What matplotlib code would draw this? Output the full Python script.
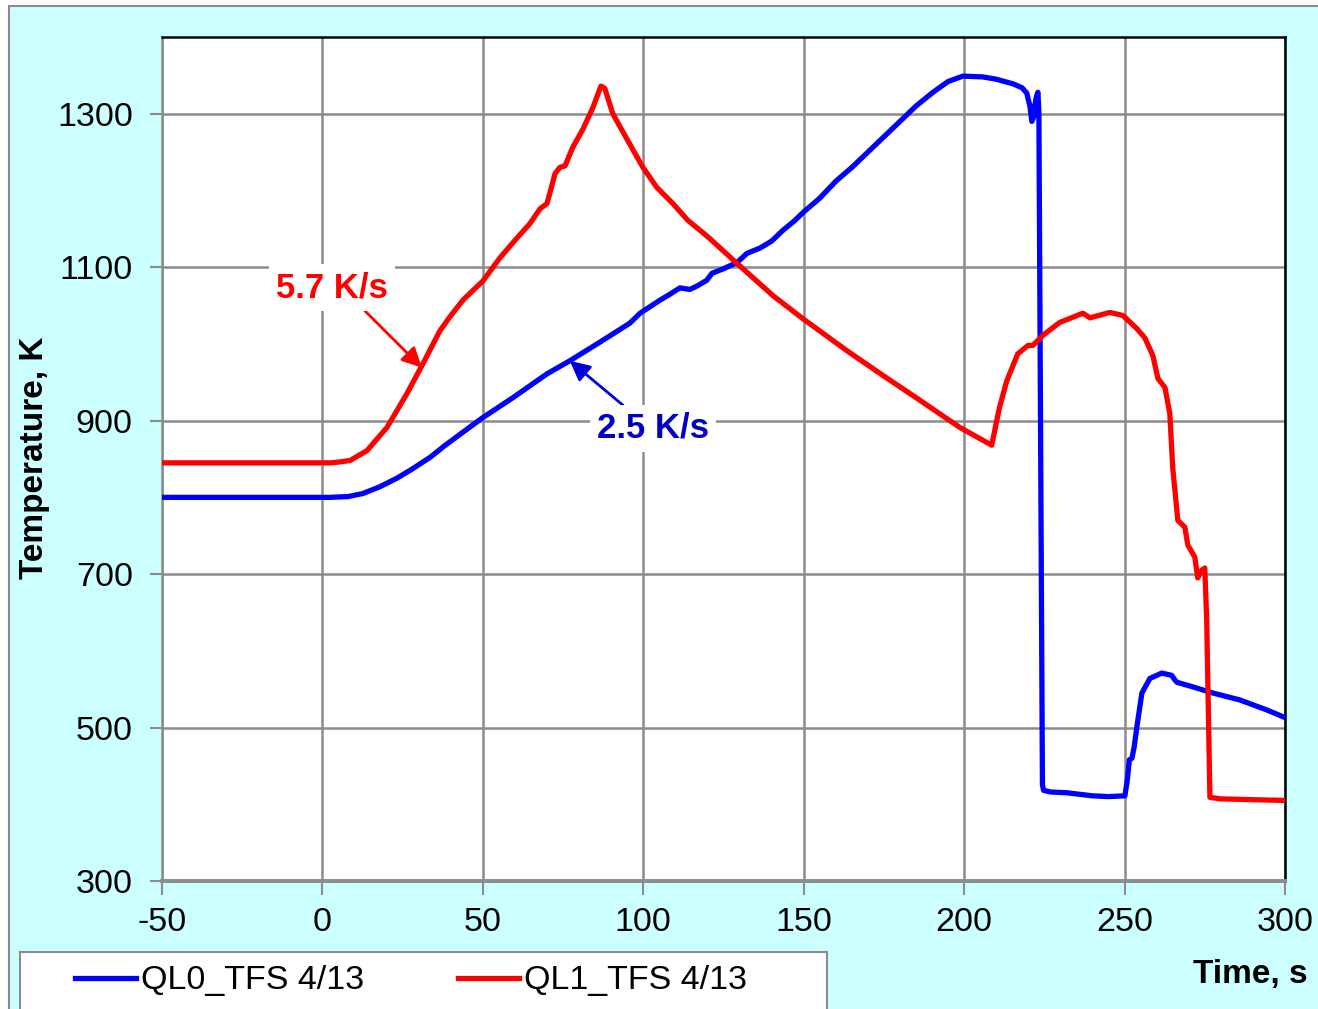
import matplotlib
matplotlib.use("Agg")
import matplotlib.pyplot as plt
from matplotlib.patches import Rectangle

plt.rcParams['font.family'] = ['Liberation Sans', 'DejaVu Sans']

# ---------------- data ----------------
t_ql0 = [-50, 2.4, 8, 12.6, 18, 23.2, 28, 33.5, 38, 43.8, 50, 59.4, 70, 77.1, 85.6,
         95.8, 99, 105.2, 108, 111.4, 113, 114.5, 117, 119.8, 121.4, 125, 129.2,
         132.3, 136.4, 140, 143.5, 147, 150, 155, 160, 165, 170, 175, 180, 185,
         190.3, 195, 199.6, 205.8, 210, 215.2, 218, 219.5, 220.5, 221.1, 221.6,
         222.0, 222.5, 223.0, 223.3, 224.4, 224.8, 227, 232, 240, 245, 250.1,
         250.8, 251.5, 252.3, 253.0, 253.8, 255.4, 257.9, 261.6, 264.7, 265.5,
         266.3, 271.3, 277.5, 285.9, 294.3, 300]
T_ql0 = [800, 800, 801, 805, 814, 825, 837, 852, 867, 885, 904, 930, 961, 978, 1000,
         1027, 1040, 1057, 1064, 1073, 1072, 1071, 1076, 1083, 1092, 1098, 1106,
         1118, 1125, 1134, 1148, 1160, 1172, 1190, 1212, 1230, 1250, 1270, 1290,
         1310, 1328, 1342, 1349, 1348, 1345, 1339, 1334, 1327, 1310, 1290, 1295,
         1310, 1322, 1328, 1300, 425, 418, 416, 415, 411, 410, 411,
         430, 458, 460, 475, 500, 545, 564, 571, 568, 563,
         559, 553, 545, 536, 523, 513]

t_ql1 = [-50, 2.4, 5, 8.6, 13.9, 20.1, 26.3, 31.3, 36.6, 39.5, 41.9, 44, 46, 50,
         55.3, 60, 64.7, 67.8, 70, 72.5, 74, 75.6, 78, 81.2, 84.3, 86.8, 88, 90.5,
         94.9, 99.9, 104.2, 109.2, 113.9, 120, 129.2, 140.4, 149.7, 163.5, 175,
         185, 198.7, 208.6, 211, 213.3, 216.7, 219.9, 221.4, 224.5, 229.8, 237,
         239.2, 245.4, 249.5, 253.8, 256.3, 258.8, 260.4, 262.6, 264.1, 265, 266.6,
         268.8, 269.7, 271.9, 272.8, 274, 275, 275.6, 276.6, 280, 290, 300]
T_ql1 = [845, 845, 846, 848, 861, 891, 935, 974, 1017, 1034, 1047, 1058, 1066, 1082,
         1112, 1135, 1157, 1176, 1183, 1222, 1230, 1232, 1256, 1280, 1308, 1336,
         1333, 1300, 1267, 1230, 1204, 1183, 1161, 1140, 1105, 1063, 1033, 991, 958,
         930, 891, 868, 917, 952, 987, 998, 998, 1011, 1028, 1040,
         1034, 1041, 1037, 1020, 1008, 985, 955, 943, 909, 839, 770,
         761, 738, 722, 695, 705, 708, 640, 409, 407, 406, 405]

series_labels = ["QL0_TFS 4/13", "QL1_TFS 4/13"]
x_ticks = [-50, 0, 50, 100, 150, 200, 250, 300]
y_ticks = [300, 500, 700, 900, 1100, 1300]

# ---------------- figure ----------------
W, H = 1318, 1009
fig = plt.figure(figsize=(W / 100, H / 100), dpi=100, facecolor='white')

# outer cyan chart area with grey border
fig.patches.append(Rectangle((9 / W, -0.01), 1.02 - 9 / W, 1 - 6 / H + 0.01,
                             transform=fig.transFigure, facecolor='#ccffff',
                             edgecolor='#8c8c8c', linewidth=1.5, zorder=-2))
# legend box
fig.patches.append(Rectangle((20 / W, -0.01), (827 - 20) / W, 1 - 952 / H + 0.01,
                             transform=fig.transFigure, facecolor='white',
                             edgecolor='#8c8c8c', linewidth=1.5, zorder=-1))

ax = fig.add_axes([162 / W, 1 - 881 / H, (1285 - 162) / W, (881 - 37) / H])
ax.set_facecolor('white')

grid_c = '#8c8c8c'
ax.plot(t_ql0, T_ql0, color='#0000ff', lw=3.8, label=series_labels[0], zorder=3,
        solid_joinstyle='round')
ax.plot(t_ql1, T_ql1, color='#ff0000', lw=3.8, label=series_labels[1], zorder=3,
        solid_joinstyle='round')

ax.set_xlim(-50, 300)
ax.set_ylim(300, 1400)
ax.set_xticks(x_ticks)
ax.set_yticks(y_ticks)
ax.set_xticklabels([str(v) for v in x_ticks])
ax.set_yticklabels([str(v) for v in y_ticks])
ax.grid(True, color=grid_c, lw=1.8, zorder=0)
ax.set_axisbelow(True)

ax.tick_params(axis='both', labelsize=24.5, color=grid_c, width=1.5, direction='out')
ax.tick_params(axis='y', length=9, pad=12)
ax.tick_params(axis='x', length=10, pad=9)

ax.spines['left'].set_color(grid_c)
ax.spines['left'].set_linewidth(1.8)
ax.spines['bottom'].set_color(grid_c)
ax.spines['bottom'].set_linewidth(2.8)
ax.spines['top'].set_color('black')
ax.spines['top'].set_linewidth(1.8)
ax.spines['right'].set_color('black')
ax.spines['right'].set_linewidth(1.8)

# annotations
ax.annotate('', xy=(31, 969), xytext=(12.3, 1047),
            arrowprops=dict(arrowstyle='-|>', color='#ff0000', lw=2,
                            mutation_scale=30, shrinkA=0, shrinkB=0), zorder=4)
ax.text(3.0, 1073, '5.7 K/s', color='#ff0000', fontsize=25, fontweight='bold',
        ha='center', va='center', zorder=5,
        bbox=dict(facecolor='white', edgecolor='none', pad=5))

ax.annotate('', xy=(77.1, 978), xytext=(93.7, 920),
            arrowprops=dict(arrowstyle='-|>', color='#0000dd', lw=2,
                            mutation_scale=30, shrinkA=0, shrinkB=0), zorder=4)
ax.text(103, 890, '2.5 K/s', color='#0000c0', fontsize=25, fontweight='bold',
        ha='center', va='center', zorder=5,
        bbox=dict(facecolor='white', edgecolor='none', pad=5))

# axis titles
fig.text(35 / W, 1 - 458 / H, 'Temperature, K', rotation=90, fontsize=24,
         fontweight='bold', ha='center', va='center')
fig.text(1308 / W, 1 - 975 / H, 'Time, s', fontsize=24, fontweight='bold',
         ha='right', va='center')

leg = ax.legend(loc='center left', bbox_to_anchor=(75 / W, 1 - 981 / H),
                bbox_transform=fig.transFigure, ncol=2, frameon=False,
                fontsize=24.5, handlelength=1.8, handletextpad=0.15,
                columnspacing=2.75, borderpad=0, borderaxespad=0)

fig.savefig('out.png', dpi=100, facecolor=fig.get_facecolor())
